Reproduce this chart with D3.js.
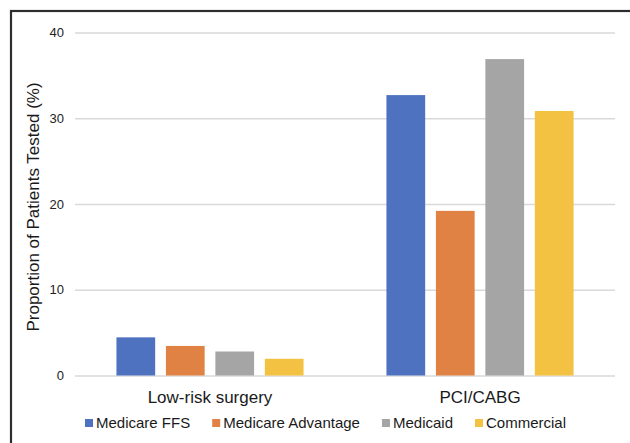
<!DOCTYPE html>
<html>
<head>
<meta charset="utf-8">
<script src="https://cdn.jsdelivr.net/npm/d3@7"></script>
<style>
  html, body { margin: 0; padding: 0; background: #fff; }
  svg { display: block; font-family: "Liberation Sans", Arial, Helvetica, sans-serif; }
</style>
</head>
<body>
<svg id="chart" width="630" height="443"></svg>
<script>
// Procedure groups along the x axis
const categories = ["Low-risk surgery", "PCI/CABG"];
// Payer series, drawn in this order within each group
const seriesNames = ["Medicare FFS", "Medicare Advantage", "Medicaid", "Commercial"];
const seriesColors = ["#4e72bf", "#df8244", "#a5a5a5", "#f4c243"];
// Proportion of patients tested (%), one array per payer: [low-risk, PCI/CABG]
const medicareFFS = [4.45, 32.7];
const medicareAdvantage = [3.45, 19.2];
const medicaid = [2.8, 36.9];
const commercial = [1.95, 30.85];
const yTicks = [0, 10, 20, 30, 40];

const seriesValues = [medicareFFS, medicareAdvantage, medicaid, commercial];

const svg = d3.select("#chart");

// Chart frame
svg.append("rect")
  .attr("x", 11).attr("y", 11)
  .attr("width", 640).attr("height", 460)
  .attr("fill", "none")
  .attr("stroke", "#2e2e2e")
  .attr("stroke-width", 2.2);

const plot = { left: 75, right: 615, top: 32.5, bottom: 375.5 };

const y = d3.scaleLinear().domain([0, 40]).range([plot.bottom, plot.top]);

const x0 = d3.scaleBand()
  .domain(categories)
  .range([plot.left, plot.right])
  .paddingInner(0.307)
  .paddingOuter(0.1535);

const x1 = d3.scaleBand()
  .domain(seriesNames)
  .range([0, x0.bandwidth()])
  .paddingInner(0.217)
  .paddingOuter(0);

// Gridlines and y tick labels
const yAxis = d3.axisLeft(y)
  .tickValues(yTicks)
  .tickSize(-(plot.right - plot.left))
  .tickPadding(11)
  .tickFormat(d3.format("d"));

const gy = svg.append("g")
  .attr("transform", `translate(${plot.left},0)`)
  .call(yAxis);
gy.select(".domain").remove();
gy.selectAll(".tick line")
  .attr("stroke", "#d9d9d9")
  .attr("stroke-width", 1.3);
gy.selectAll(".tick text")
  .attr("fill", "#222")
  .style("font-size", "13px");

// Bars
const groups = svg.append("g")
  .selectAll("g")
  .data(categories)
  .join("g")
  .attr("transform", d => `translate(${x0(d)},0)`);

groups.selectAll("rect")
  .data((cat, ci) => seriesNames.map((name, si) => ({ name, si, value: seriesValues[si][ci] })))
  .join("rect")
  .attr("x", d => x1(d.name))
  .attr("width", x1.bandwidth())
  .attr("y", d => y(d.value))
  .attr("height", d => y(0) - y(d.value))
  .attr("fill", d => seriesColors[d.si]);

// Category labels
const xAxis = d3.axisBottom(x0).tickSize(0).tickPadding(15);
const gx = svg.append("g")
  .attr("transform", `translate(0,${plot.bottom})`)
  .call(xAxis);
gx.select(".domain").remove();
gx.selectAll(".tick text")
  .attr("fill", "#1a1a1a")
  .style("font-size", "17px");

// Y axis title
svg.append("text")
  .attr("transform", "translate(38.5,207) rotate(-90)")
  .attr("text-anchor", "middle")
  .attr("fill", "#1a1a1a")
  .style("font-size", "17px")
  .text("Proportion of Patients Tested (%)");

// Legend
const legend = svg.append("g").attr("transform", "translate(85,423)");
let lx = 0;
seriesNames.forEach((name, i) => {
  const item = legend.append("g").attr("transform", `translate(${lx},0)`);
  item.append("rect")
    .attr("x", 0).attr("y", -4)
    .attr("width", 8).attr("height", 8)
    .attr("fill", seriesColors[i]);
  const t = item.append("text")
    .attr("x", 11)
    .attr("dy", "0.35em")
    .attr("fill", "#1a1a1a")
    .style("font-size", "15px")
    .text(name);
  lx += 11 + t.node().getComputedTextLength() + 22;
});
</script>
</body>
</html>
